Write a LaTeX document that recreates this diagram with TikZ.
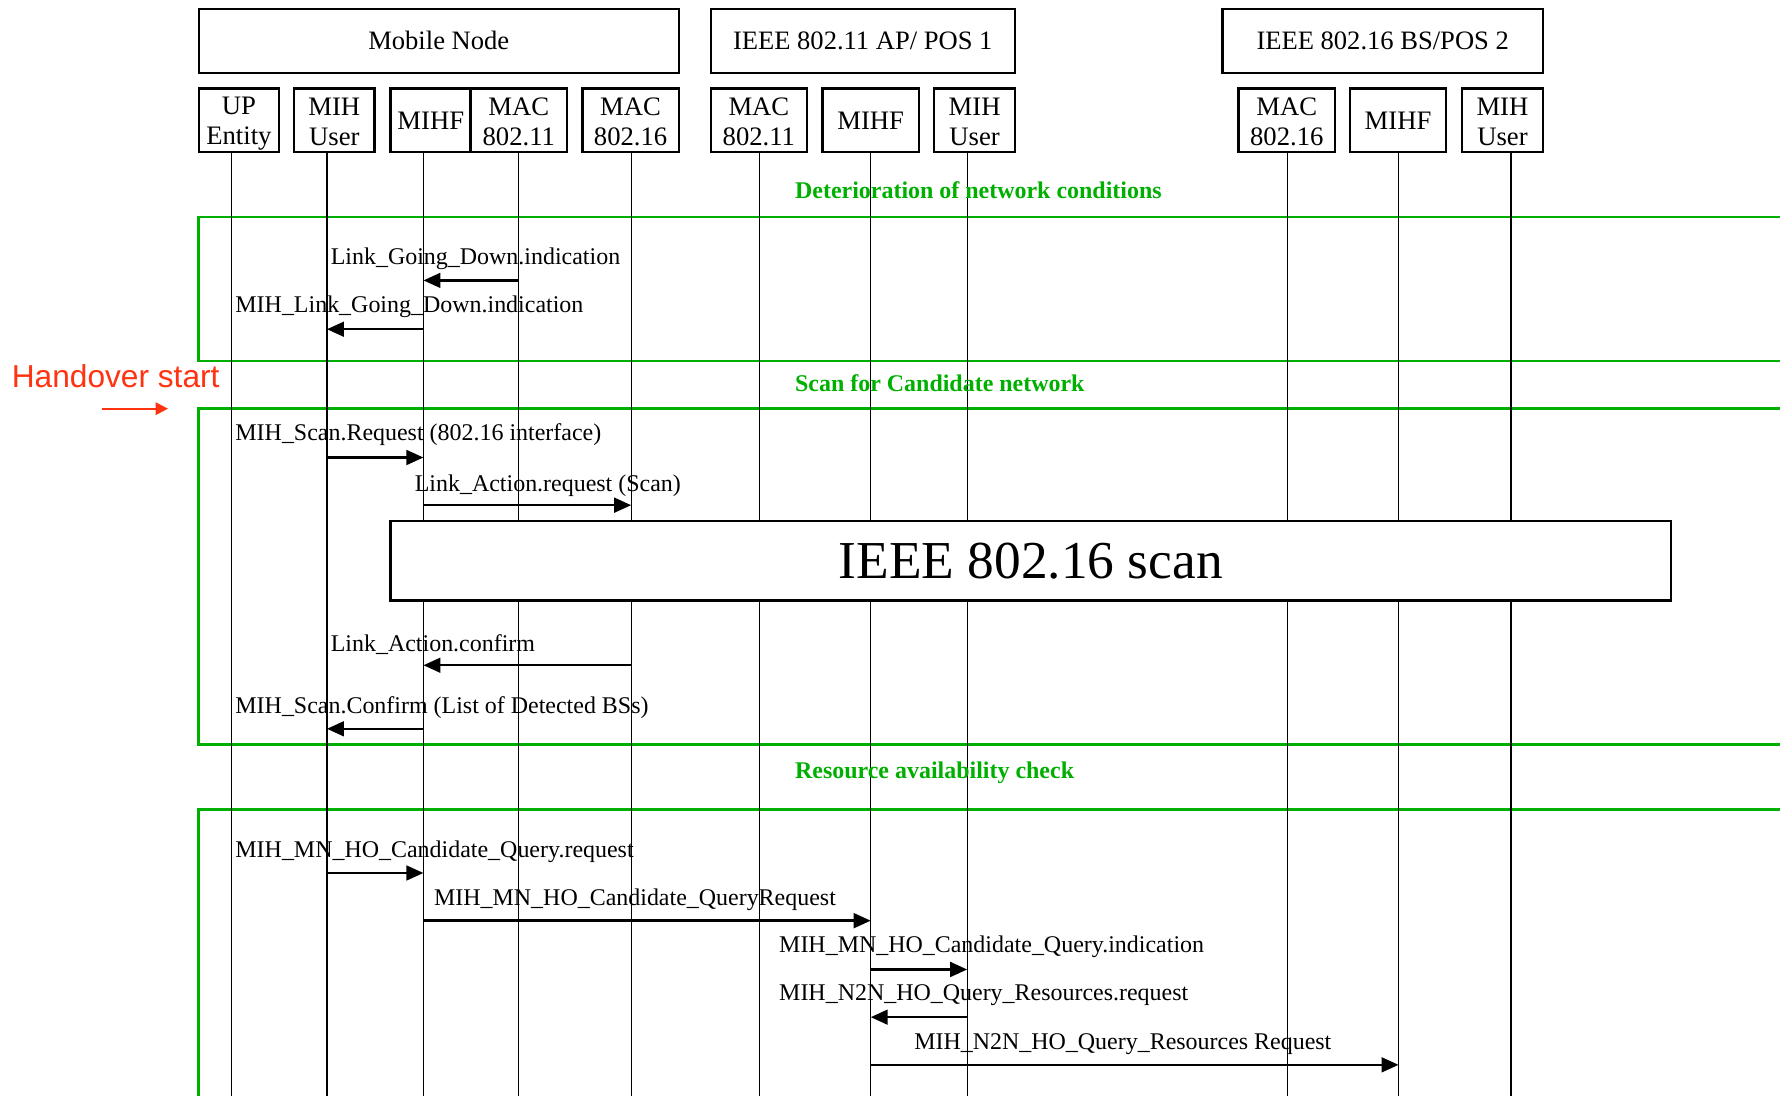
\documentclass[tikz,border=0pt]{standalone}
\usepackage{fontspec}
\setmainfont{Liberation Serif}
\newfontfamily\hofont{Liberation Sans}
\usetikzlibrary{arrows.meta}
\definecolor{grn}{RGB}{0,176,0}
\definecolor{hored}{RGB}{255,51,17}
\newcommand\twoline[2]{\rule[-1.5pt]{0pt}{12pt}#1\\\rule[-1.5pt]{0pt}{12pt}#2}
\begin{document}
\begin{tikzpicture}[x=0.5pt,y=-0.5pt,
  hdr/.style={draw,line width=1pt,minimum height=28pt,inner sep=0,font=\fontsize{11.7}{13}\selectfont},
  sub/.style={draw,line width=1pt,minimum height=28pt,inner sep=0,align=center,font=\fontsize{11.75}{13}\selectfont},
  narrow/.style={sub,minimum width=35.5pt},
  wide/.style={sub,minimum width=42.5pt},
  life/.style={line width=0.55pt},
  msg/.style={line width=1.1pt,-{Triangle[length=7.5pt,width=6.5pt]}},
  lbl/.style={anchor=west,inner sep=0,text height=7.2pt,text depth=0pt,font=\fontsize{10.55}{12}\selectfont},
  phase/.style={anchor=west,inner sep=0,text height=7.2pt,text depth=0pt,text=grn,font=\fontsize{10.55}{12}\selectfont\bfseries},
  grnframe/.style={draw=grn,line width=1.1pt}]

\clip (0,0) rectangle (1568,965);
\fill[white] (0,0) rectangle (1568,965);

% header boxes
\node[hdr,minimum width=211.5pt] (mn) at (386.5,36) {Mobile Node};
\node[hdr,minimum width=134pt] (ap) at (760,36) {IEEE 802.11 AP/ POS 1};
\node[hdr,minimum width=141pt] (bs) at (1218,36) {IEEE 802.16 BS/POS 2};

% sub boxes
\node[narrow] (mn-up) at (210.5,106) {\twoline{UP}{Entity}};
\node[narrow] (mn-user) at (294.5,106) {\twoline{MIH}{User}};
\node[narrow] (mn-mihf) at (379.5,106) {MIHF};
\node[wide] (mn-mac11) at (457,106) {\twoline{MAC}{802.11}};
\node[wide] (mn-mac16) at (555.5,106) {\twoline{MAC}{802.16}};
\node[wide] (ap-mac11) at (668.5,106) {\twoline{MAC}{802.11}};
\node[wide] (ap-mihf) at (767,106) {MIHF};
\node[narrow] (ap-user) at (858.5,106) {\twoline{MIH}{User}};
\node[wide] (bs-mac16) at (1133.5,106) {\twoline{MAC}{802.16}};
\node[wide] (bs-mihf) at (1231.5,106) {MIHF};
\node[narrow] (bs-user) at (1323.5,106) {\twoline{MIH}{User}};

% lifeline tops
\coordinate (L-up) at (204,134);
\coordinate (L-user) at (288,134);
\coordinate (L-mihf) at (373,134);
\coordinate (L-mac11) at (457,134);
\coordinate (L-mac16) at (556,134);
\coordinate (L-apmac) at (669,134);
\coordinate (L-apmihf) at (767,134);
\coordinate (L-apuser) at (852,134);
\coordinate (L-bsmac) at (1134,134);
\coordinate (L-bsmihf) at (1232,134);
\coordinate (L-bsuser) at (1331,134);

% green phase frames
\draw[grnframe] (1600,191) -- (175,191) -- (175,318) -- (1600,318);
\draw[grnframe] (1600,360) -- (175,360) -- (175,656) -- (1600,656);
\draw[grnframe] (1600,713) -- (175,713) -- (175,1000);

% lifelines
\foreach \l in {L-up,L-user,L-mihf,L-mac11,L-mac16,L-apmac,L-apmihf,L-apuser,L-bsmac,L-bsmihf,L-bsuser}
  \draw[life] (\l) -- (\l |- 0,1000);

% phase labels
\node[phase] (ph1) at (700,168) {Deterioration of network conditions};
\node[phase] (ph2) at (700,338) {Scan for Candidate network};
\node[phase] (ph3) at (700,679) {Resource availability check};

% handover start
\node[anchor=west,inner sep=0,text=hored,font=\hofont\fontsize{13.95}{16}\selectfont] (ho) at (10,331) {Handover start};
\coordinate (ho-a) at (90,360);
\coordinate (ho-b) at (148,360);
\draw[hored,line width=0.9pt,-{Triangle[length=5.5pt,width=5.5pt]}] (ho-a) -- (ho-b);

% scan box
\node[draw,line width=1pt,fill=white,minimum width=564pt,minimum height=35pt,inner sep=0,font=\fontsize{23.5}{26}\selectfont] (scan) at (908,494) {IEEE 802.16 scan};

% messages
\node[lbl] (m1) at (291,226) {Link\_Going\_Down.indication};
\draw[msg] (L-mac11 |- 0,247) -- (L-mihf |- 0,247);
\node[lbl] (m2) at (207,268) {MIH\_Link\_Going\_Down.indication};
\draw[msg] (L-mihf |- 0,290) -- (L-user |- 0,290);
\node[lbl] (m3) at (207,381) {MIH\_Scan.Request (802.16 interface)};
\draw[msg] (L-user |- 0,403) -- (L-mihf |- 0,403);
\node[lbl] (m4) at (365,426) {Link\_Action.request (Scan)};
\draw[msg] (L-mihf |- 0,445) -- (L-mac16 |- 0,445);
\node[lbl] (m5) at (291,567) {Link\_Action.confirm};
\draw[msg] (L-mac16 |- 0,586) -- (L-mihf |- 0,586);
\node[lbl] (m6) at (207,621) {MIH\_Scan.Confirm (List of Detected BSs)};
\draw[msg] (L-mihf |- 0,642) -- (L-user |- 0,642);
\node[lbl] (m7) at (207,748) {MIH\_MN\_HO\_Candidate\_Query.request};
\draw[msg] (L-user |- 0,769) -- (L-mihf |- 0,769);
\node[lbl] (m8) at (382,790) {MIH\_MN\_HO\_Candidate\_QueryRequest};
\draw[msg] (L-mihf |- 0,811) -- (L-apmihf |- 0,811);
\node[lbl] (m9) at (686,832) {MIH\_MN\_HO\_Candidate\_Query.indication};
\draw[msg] (L-apmihf |- 0,854) -- (L-apuser |- 0,854);
\node[lbl] (m10) at (686,874) {MIH\_N2N\_HO\_Query\_Resources.request};
\draw[msg] (L-apuser |- 0,896) -- (L-apmihf |- 0,896);
\node[lbl] (m11) at (805,917) {MIH\_N2N\_HO\_Query\_Resources Request};
\draw[msg] (L-apmihf |- 0,938) -- (L-bsmihf |- 0,938);
\end{tikzpicture}
\end{document}
